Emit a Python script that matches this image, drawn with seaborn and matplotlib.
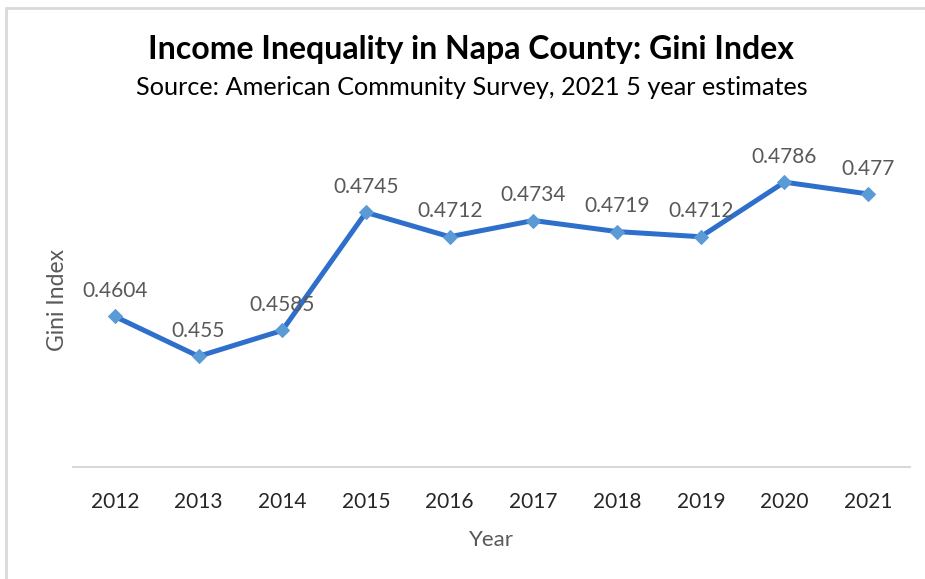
import matplotlib
matplotlib.use("Agg")
import matplotlib.pyplot as plt
from matplotlib.lines import Line2D
import seaborn as sns
import pandas as pd

years = [2012, 2013, 2014, 2015, 2016, 2017, 2018, 2019, 2020, 2021]
gini = [0.4604, 0.455, 0.4585, 0.4745, 0.4712, 0.4734, 0.4719, 0.4712, 0.4786, 0.477]
value_labels = ["0.4604", "0.455", "0.4585", "0.4745", "0.4712", "0.4734", "0.4719", "0.4712", "0.4786", "0.477"]

df = pd.DataFrame({"Year": years, "Gini": gini})

sns.set_theme(style="white")
plt.rcParams["font.family"] = ["Lato", "DejaVu Sans"]

W, H = 925, 579
fig = plt.figure(figsize=(W / 100, H / 100), dpi=100)
fig.patch.set_facecolor("white")

# plot area in pixels: left 73, right 910, top 98, bottom 467
ax = fig.add_axes([73 / W, 1 - 467 / H, (910 - 73) / W, (467 - 98) / H])

sns.lineplot(data=df, x="Year", y="Gini", ax=ax, color="#2E6FCB", linewidth=3.6,
             marker="D", markersize=7.5, markerfacecolor="#5B9BD5",
             markeredgecolor="#5B9BD5")

ax.set_xlim(years[0] - 0.5, years[-1] + 0.5)
ax.set_ylim(0.44, 0.49)
ax.set_xticks(years)
ax.set_xticklabels([str(y) for y in years], fontsize=15, color="#262626")
ax.set_yticks([])
ax.tick_params(axis="x", length=0, pad=18)

for s in ["top", "right", "left"]:
    ax.spines[s].set_visible(False)
ax.spines["bottom"].set_color("#D9D9D9")
ax.spines["bottom"].set_linewidth(1.5)

for x, y, t in zip(years, gini, value_labels):
    ax.annotate(t, (x, y), xytext=(0, 11), textcoords="offset points",
                ha="center", va="bottom", fontsize=15, color="#595959")

ax.set_xlabel("Year", fontsize=16, color="#595959", labelpad=13)
ax.set_ylabel("")
fig.text(57 / W, 1 - 300 / H, "Gini Index", rotation=90, ha="center", va="center",
         fontsize=16.5, color="#595959")

fig.text(471 / W, 1 - 50 / H, "Income Inequality in Napa County: Gini Index",
         ha="center", va="center", fontsize=23, fontweight="bold", color="black")
fig.text(472 / W, 1 - 88 / H, "Source: American Community Survey, 2021 5 year estimates",
         ha="center", va="center", fontsize=18.2, color="black")

# light frame along the top and left edges
fig.add_artist(Line2D([6 / W, 1], [1 - 8 / H, 1 - 8 / H], color="#D9D9D9", linewidth=2,
                      transform=fig.transFigure))
fig.add_artist(Line2D([6 / W, 6 / W], [0, 1 - 8 / H], color="#D9D9D9", linewidth=2,
                      transform=fig.transFigure))

fig.savefig("out.png", dpi=100)
